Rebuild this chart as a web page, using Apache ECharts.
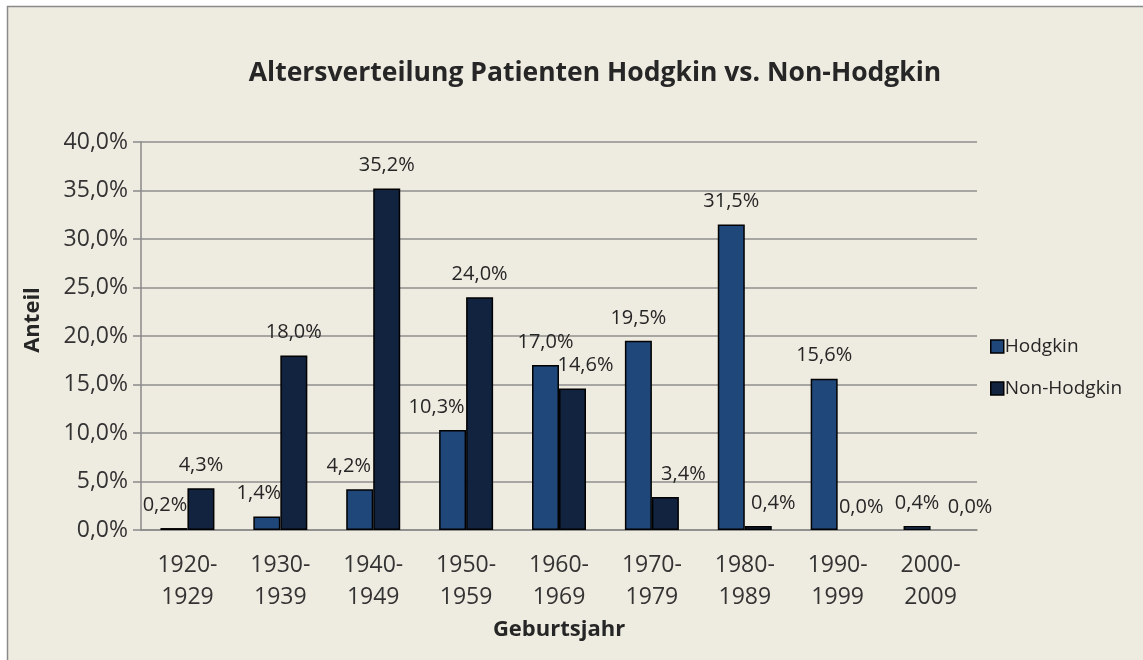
<!DOCTYPE html>
<html>
<head>
<meta charset="utf-8">
<script src="https://cdn.jsdelivr.net/npm/echarts@6/dist/echarts.min.js"></script>
<style>
  html, body { margin: 0; padding: 0; background: #ffffff; }
  #echart { width: 1143px; height: 660px; }
</style>
</head>
<body>
<div id="echart"></div>
<script>
// Anteil der Patienten je Geburtsjahrzehnt (in Prozent)
var categories = ['1920-\n1929', '1930-\n1939', '1940-\n1949', '1950-\n1959', '1960-\n1969',
                  '1970-\n1979', '1980-\n1989', '1990-\n1999', '2000-\n2009'];
var hodgkin    = [0.2, 1.4, 4.2, 10.3, 17.0, 19.5, 31.5, 15.6, 0.4];
var nonHodgkin = [4.3, 18.0, 35.2, 24.0, 14.6, 3.4, 0.4, 0.0, 0.0];
var yTicks = [0, 5, 10, 15, 20, 25, 30, 35, 40];

var fontFam = '"Open Sans", sans-serif';
var txt = '#262626';

function pct(v) {
    return v.toFixed(1).replace('.', ',') + '%';
}

// Excel hat einige Beschriftungen seitlich verschoben
var hShift = {0: -9, 1: -8, 2: -11, 3: -16};
var nShift = {4: 13, 5: 18, 6: 15, 7: 10, 8: 26};

function buildData(values, shift) {
    return values.map(function (v, i) {
        var item = { value: v };
        if (shift[i] !== undefined) {
            item.label = { offset: [shift[i], 0] };
        }
        if (v === 0) {
            item.itemStyle = { borderWidth: 0 };
        }
        return item;
    });
}

var chart = echarts.init(document.getElementById('echart'));

var barLabel = {
    show: true,
    position: 'top',
    distance: 13,
    color: txt,
    fontFamily: fontFam,
    fontSize: 20,
    formatter: function (p) { return pct(p.value); }
};

var option = {
    backgroundColor: '#ffffff',
    animation: false,
    graphic: [{
        type: 'rect',
        z: -10,
        shape: { x: 7.5, y: 6.5, width: 1300, height: 800 },
        style: { fill: '#eeebe0', stroke: '#8a8a8a', lineWidth: 1.5 }
    }],
    title: {
        text: 'Altersverteilung Patienten Hodgkin vs. Non-Hodgkin',
        left: 590,
        textAlign: 'center',
        top: 55,
        textStyle: { fontFamily: fontFam, fontSize: 26.5, fontWeight: 'bold', color: txt }
    },
    legend: {
        orient: 'vertical',
        left: 985,
        top: 332,
        icon: 'rect',
        itemWidth: 13,
        itemHeight: 13,
        itemGap: 23,
        itemStyle: { borderColor: '#000000', borderWidth: 1.5 },
        textStyle: { fontFamily: fontFam, fontSize: 19, color: txt, padding: [0, 0, 0, -4] },
        data: ['Hodgkin', 'Non-Hodgkin']
    },
    grid: { left: 141, right: 166, top: 142, bottom: 130 },
    xAxis: {
        type: 'category',
        data: categories,
        name: 'Geburtsjahr',
        nameLocation: 'middle',
        nameGap: 89,
        nameTextStyle: { fontFamily: fontFam, fontSize: 22, fontWeight: 'bold', color: txt },
        axisLine: { lineStyle: { color: '#8a8a8a', width: 1.5 } },
        axisTick: { length: 9, lineStyle: { color: '#8a8a8a', width: 1.5 } },
        axisLabel: {
            fontFamily: fontFam, fontSize: 23, color: '#333', lineHeight: 32, margin: 19
        }
    },
    yAxis: {
        type: 'value',
        min: 0,
        max: 40,
        interval: 5,
        name: 'Anteil',
        nameLocation: 'middle',
        nameGap: 97,
        nameTextStyle: { fontFamily: fontFam, fontSize: 22, fontWeight: 'bold', color: txt, padding: [0, 0, 0, 32] },
        axisLine: { show: true, lineStyle: { color: '#8a8a8a', width: 1.5 } },
        axisTick: { show: true, length: 8, lineStyle: { color: '#8a8a8a', width: 1.5 } },
        splitLine: { lineStyle: { color: '#8f8f8f', width: 1.5 } },
        axisLabel: {
            fontFamily: fontFam, fontSize: 23, color: '#333', margin: 13,
            formatter: function (v) { return pct(v); }
        }
    },
    series: [{
        name: 'Hodgkin',
        type: 'bar',
        barWidth: 27,
        barGap: '0%',
        itemStyle: { color: '#1f477a', borderColor: '#000000', borderWidth: 1.5 },
        label: barLabel,
        data: buildData(hodgkin, hShift)
    }, {
        name: 'Non-Hodgkin',
        type: 'bar',
        barWidth: 27,
        barGap: '0%',
        itemStyle: { color: '#12233f', borderColor: '#000000', borderWidth: 1.5 },
        label: barLabel,
        data: buildData(nonHodgkin, nShift)
    }]
};

chart.setOption(option);
</script>
</body>
</html>
